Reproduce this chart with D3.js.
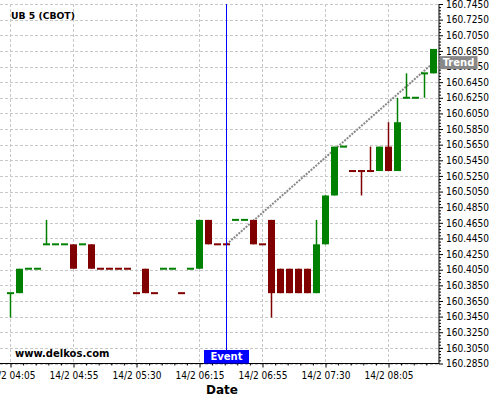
<!DOCTYPE html>
<html>
<head>
<meta charset="utf-8">
<script src="https://cdn.jsdelivr.net/npm/d3@7"></script>
<style>
  html, body { margin: 0; padding: 0; background: #fff; }
  svg { display: block; }
  .bold { font-family: "DejaVu Sans", sans-serif; font-weight: bold; }
</style>
</head>
<body>
<script>
// ---------- DATA ----------
const title = "UB 5 (CBOT)";
const watermark = "www.delkos.com";
const xTitle = "Date";
const categories = [
  "14/2 04:05","14/2 04:10","14/2 04:15","14/2 04:20","14/2 04:30","14/2 04:35","14/2 04:45",
  "14/2 04:55","14/2 05:00","14/2 05:05","14/2 05:10","14/2 05:15","14/2 05:20","14/2 05:25",
  "14/2 05:30","14/2 05:35","14/2 05:40","14/2 05:50","14/2 05:55","14/2 06:00","14/2 06:05",
  "14/2 06:15","14/2 06:20","14/2 06:25","14/2 06:30","14/2 06:40","14/2 06:45","14/2 06:50",
  "14/2 06:55","14/2 07:00","14/2 07:05","14/2 07:10","14/2 07:15","14/2 07:20","14/2 07:25",
  "14/2 07:30","14/2 07:35","14/2 07:40","14/2 07:45","14/2 07:50","14/2 07:55","14/2 08:00",
  "14/2 08:05","14/2 08:10","14/2 08:15","14/2 08:20","14/2 08:25","14/2 08:30"
];
const openV = [
  160.375,160.375,160.40625,160.40625,160.4375,160.4375,160.4375,
  160.4375,160.4375,160.4375,160.40625,160.40625,160.40625,160.40625,
  160.375,160.40625,160.375,160.40625,160.40625,160.375,160.40625,
  160.40625,160.46875,160.4375,160.4375,160.46875,160.46875,160.46875,
  160.4375,160.46875,160.40625,160.40625,160.40625,160.40625,160.375,
  160.4375,160.5,160.5625,160.53125,160.53125,160.53125,160.53125,
  160.5625,160.53125,160.625,160.625,160.65625,160.65625
];
const highV = [
  160.375,160.40625,160.40625,160.40625,160.46875,160.4375,160.4375,
  160.4375,160.4375,160.4375,160.40625,160.40625,160.40625,160.40625,
  160.375,160.40625,160.375,160.40625,160.40625,160.375,160.40625,
  160.46875,160.46875,160.4375,160.4375,160.46875,160.46875,160.46875,
  160.4375,160.46875,160.40625,160.40625,160.40625,160.40625,160.46875,
  160.5,160.5625,160.5625,160.53125,160.53125,160.5625,160.5625,
  160.59375,160.625,160.65625,160.625,160.65625,160.6875
];
const lowV = [
  160.34375,160.375,160.40625,160.40625,160.4375,160.4375,160.4375,
  160.40625,160.4375,160.40625,160.40625,160.40625,160.40625,160.40625,
  160.375,160.375,160.375,160.40625,160.40625,160.375,160.40625,
  160.40625,160.4375,160.4375,160.4375,160.46875,160.46875,160.4375,
  160.4375,160.34375,160.375,160.375,160.375,160.375,160.375,
  160.4375,160.5,160.5625,160.53125,160.5,160.53125,160.53125,
  160.53125,160.53125,160.625,160.625,160.625,160.65625
];
const closeV = [
  160.375,160.40625,160.40625,160.40625,160.4375,160.4375,160.4375,
  160.40625,160.4375,160.40625,160.40625,160.40625,160.40625,160.40625,
  160.375,160.375,160.375,160.40625,160.40625,160.375,160.40625,
  160.46875,160.4375,160.4375,160.4375,160.46875,160.46875,160.4375,
  160.4375,160.375,160.375,160.375,160.375,160.375,160.4375,
  160.5,160.5625,160.5625,160.53125,160.53125,160.53125,160.5625,
  160.53125,160.59375,160.625,160.625,160.65625,160.6875
];
const yTickValues = [160.285,160.305,160.325,160.345,160.365,160.385,160.405,160.425,160.445,160.465,
  160.485,160.505,160.525,160.545,160.565,160.585,160.605,160.625,160.645,160.665,160.685,160.705,160.725,160.745];
const yDomain = [160.285, 160.745];
const xTickEvery = 7;
const eventIndex = 24;
const eventLabel = "Event";
const trendIdx = [24, 47];
const trendVals = [160.4375, 160.670];
const trendLabel = "Trend";

// ---------- LAYOUT ----------
const W = 500, H = 400;
const plotL = 0, plotR = 439, plotT = 4, plotB = 363.5;
const green = "#008000", red = "#800000";
const condFont = "'DejaVu Sans Condensed','DejaVu Sans',sans-serif";

const svg = d3.select("body").append("svg").attr("width", W).attr("height", H);

const x = d3.scalePoint().domain(categories).range([10.5, 433.5]);
const xi = d3.scaleLinear().domain([0, categories.length - 1]).range([10.5, 433.5]);
const y = d3.scaleLinear().domain(yDomain).range([plotB, plotT]);

// grid
const grid = svg.append("g").attr("stroke", "#c8c8c8").attr("stroke-width", 1).attr("stroke-dasharray", "3,2");
yTickValues.forEach(v => {
  const yy = Math.round(y(v)) + 0.5;
  grid.append("line").attr("x1", plotL).attr("x2", plotR).attr("y1", yy).attr("y2", yy);
});
const xTicks = categories.filter((c, i) => i % xTickEvery === 0);
xTicks.forEach(c => {
  const xx = Math.floor(x(c)) + 0.5;
  grid.append("line").attr("x1", xx).attr("x2", xx).attr("y1", plotT).attr("y2", plotB);
});

// trend line
svg.append("line")
  .attr("x1", x(categories[trendIdx[0]])).attr("y1", y(trendVals[0]))
  .attr("x2", x(categories[trendIdx[1]])).attr("y2", y(trendVals[1]))
  .attr("stroke", "#888").attr("stroke-width", 2).attr("stroke-dasharray", "2,1.2");

// candles
const data = categories.map((c, i) => ({ c, i, o: openV[i], h: highV[i], l: lowV[i], cl: closeV[i] }));
let prevColor = green;
data.forEach((d, i) => {
  let col;
  if (d.cl > d.o) col = green;
  else if (d.cl < d.o) col = red;
  else if (i === 0) col = green;
  else if (d.cl > closeV[i - 1]) col = green;
  else if (d.cl < closeV[i - 1]) col = red;
  else col = prevColor;
  d.col = col;
  prevColor = col;
});
const cg = svg.append("g");
data.forEach(d => {
  const cx = x(d.c);
  if (d.h !== d.l) {
    cg.append("line").attr("x1", cx).attr("x2", cx)
      .attr("y1", y(d.h)).attr("y2", y(d.l))
      .attr("stroke", d.col).attr("stroke-width", 1.5);
  }
  if (d.o === d.cl) {
    cg.append("rect").attr("x", cx - 3.5).attr("width", 7)
      .attr("y", y(d.o) - 1).attr("height", 2).attr("fill", d.col);
  } else {
    const t = y(Math.max(d.o, d.cl)), b = y(Math.min(d.o, d.cl));
    cg.append("rect").attr("x", cx - 3.5).attr("width", 7)
      .attr("y", t).attr("height", b - t).attr("fill", d.col);
  }
});

// event line
const ex = Math.floor(x(categories[eventIndex])) + 0.5;
svg.append("line").attr("x1", ex).attr("x2", ex).attr("y1", plotT).attr("y2", plotB)
  .attr("stroke", "#0000ff").attr("stroke-width", 1);

// axes lines
svg.append("line").attr("x1", plotL).attr("x2", plotR + 0.5).attr("y1", plotB).attr("y2", plotB)
  .attr("stroke", "#000").attr("stroke-width", 1);
svg.append("line").attr("x1", plotR).attr("x2", plotR).attr("y1", plotT).attr("y2", plotB)
  .attr("stroke", "#000").attr("stroke-width", 1);

// right axis
const yAxis = svg.append("g").attr("transform", `translate(${plotR},0)`)
  .call(d3.axisRight(y).tickValues(yTickValues).tickSize(4).tickPadding(3).tickFormat(d3.format(".4f")));
yAxis.select(".domain").remove();
yAxis.selectAll("text").attr("font-size", 10).attr("fill", "#000")
  .style("font-family", condFont).style("font-stretch", "condensed");
const yMinor = [];
for (let i = 0; i < yTickValues.length - 1; i++) for (let k = 1; k < 5; k++) yMinor.push(yTickValues[i] + k * 0.004);
const yMin = svg.append("g").attr("transform", `translate(${plotR},0)`)
  .call(d3.axisRight(y).tickValues(yMinor).tickSize(2).tickFormat(""));
yMin.select(".domain").remove();

// bottom axis
const xAxis = svg.append("g").attr("transform", `translate(0,${plotB})`)
  .call(d3.axisBottom(x).tickValues(xTicks).tickSize(4).tickPadding(4));
xAxis.select(".domain").remove();
xAxis.selectAll("text").attr("font-size", 10).attr("fill", "#000")
  .style("font-family", condFont).style("font-stretch", "condensed");
const xMinor = [];
for (let v = 0; v <= categories.length - 1 + 1e-9; v += xTickEvery / 5) if (Math.abs(v / xTickEvery - Math.round(v / xTickEvery)) > 1e-6) xMinor.push(v);
const xMin = svg.append("g").attr("transform", `translate(0,${plotB})`)
  .call(d3.axisBottom(xi).tickValues(xMinor).tickSize(2).tickFormat(""));
xMin.select(".domain").remove();

// title & watermark
svg.append("text").attr("x", 11).attr("y", 19).attr("class", "bold").attr("font-size", 9.25).text(title);
svg.append("text").attr("x", 15).attr("y", 357).attr("class", "bold").attr("font-size", 10).text(watermark);
svg.append("text").attr("x", 222).attr("y", 394).attr("text-anchor", "middle").attr("class", "bold")
  .attr("font-size", 12).text(xTitle);

// event label
const evW = 45, evH = 13.5;
svg.append("rect").attr("x", ex - evW / 2).attr("y", plotB - evH).attr("width", evW).attr("height", evH).attr("fill", "#0000ff");
svg.append("text").attr("x", ex).attr("y", plotB - 3.5).attr("text-anchor", "middle").attr("class", "bold")
  .attr("font-size", 10).attr("fill", "#fff").text(eventLabel);

// trend label
const ty = y(trendVals[1]);
svg.append("rect").attr("x", plotR + 0.5).attr("y", ty - 6.5).attr("width", 38).attr("height", 13).attr("fill", "#888");
svg.append("text").attr("x", plotR + 19.5).attr("y", ty + 3.5).attr("text-anchor", "middle").attr("class", "bold")
  .attr("font-size", 10).attr("fill", "#fff").text(trendLabel);
</script>
</body>
</html>
